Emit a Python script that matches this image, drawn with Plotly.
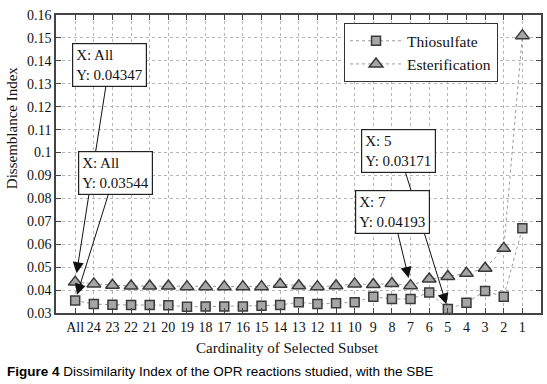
import plotly.graph_objects as go

categories = ["All", "24", "23", "22", "21", "20", "19", "18", "17", "16", "15", "14", "13",
              "12", "11", "10", "9", "8", "7", "6", "5", "4", "3", "2", "1"]
thiosulfate = [0.03544, 0.0339, 0.0336, 0.0335, 0.0335, 0.0334, 0.0327, 0.0328, 0.0328, 0.0328,
               0.0332, 0.0335, 0.0347, 0.0339, 0.0342, 0.0347, 0.0371, 0.0361, 0.0361, 0.0389,
               0.03171, 0.0345, 0.0396, 0.0371, 0.0670]
esterification = [0.04347, 0.0427, 0.0421, 0.0418, 0.0418, 0.0418, 0.0415, 0.0415, 0.0415, 0.0415,
                  0.0415, 0.0425, 0.0419, 0.0415, 0.0419, 0.0427, 0.0424, 0.0429, 0.04193, 0.0448,
                  0.0459, 0.0473, 0.0495, 0.0582, 0.1510]
y_ticks = [0.03, 0.04, 0.05, 0.06, 0.07, 0.08, 0.09, 0.1, 0.11, 0.12, 0.13, 0.14, 0.15, 0.16]
y_ticktext = ["0.03", "0.04", "0.05", "0.06", "0.07", "0.08", "0.09", "0.1", "0.11", "0.12",
              "0.13", "0.14", "0.15", "0.16"]

SERIF = "Liberation Serif"
fig = go.Figure()
fig.add_trace(go.Scatter(
    x=categories, y=thiosulfate, name="Thiosulfate", mode="lines+markers",
    line=dict(color="#9a9a9a", width=1, dash="dot"),
    marker=dict(symbol="square", size=9, color="#a6a6a6", line=dict(color="#3a3a3a", width=1.5)),
))
fig.add_trace(go.Scatter(
    x=categories, y=esterification, name="Esterification", mode="lines+markers",
    line=dict(color="#9a9a9a", width=1, dash="dot"),
    marker=dict(symbol="triangle-up", size=12, color="#a6a6a6", line=dict(color="#3a3a3a", width=1.5)),
))

L, R, T, B = 56, 4, 15, 71
W, H = 547, 384
pw, ph = W - L - R, H - T - B

def tip(i, values, text, ax, ay, standoff):
    fig.add_annotation(
        x=i, y=values[i], xref="x", yref="y", text=text, showarrow=True, ax=ax, ay=ay,
        arrowhead=2, arrowsize=2.2, arrowwidth=1, arrowcolor="#111", standoff=standoff,
        bgcolor="white", bordercolor="#222", borderwidth=1.2, borderpad=3, align="left",
        font=dict(family=SERIF, size=15, color="#111"),
    )

tip(categories.index("All"), esterification, "X: All<br>Y: 0.04347", 34, -217, 9)
tip(categories.index("All"), thiosulfate, "X: All<br>Y: 0.03544", 40, -128, 6)
tip(categories.index("5"), thiosulfate, "X: 5<br>Y: 0.03171", -49, -158, 5)
tip(categories.index("7"), esterification, "X: 7<br>Y: 0.04193", -18, -74, 8)

fig.add_annotation(text="Dissemblance Index", xref="paper", yref="paper",
                   x=(12 - L) / pw, y=(H - B - 128) / ph, textangle=-90, showarrow=False,
                   xanchor="center", yanchor="middle", font=dict(family=SERIF, size=15, color="#111"))
fig.add_annotation(text="Cardinality of Selected Subset", xref="paper", yref="paper",
                   x=(288 - L) / pw, y=(H - B - 348) / ph, showarrow=False,
                   xanchor="center", yanchor="middle", font=dict(family=SERIF, size=15, color="#111"))
fig.add_annotation(text="<b>Figure 4</b> Dissimilarity Index of the OPR reactions studied, with the SBE",
                   xref="paper", yref="paper", x=(5 - L) / pw, y=(H - B - 372) / ph, showarrow=False,
                   xanchor="left", yanchor="middle",
                   font=dict(family="Liberation Sans", size=13.5, color="#000"))

axis_common = dict(
    showline=True, linecolor="#444", linewidth=1.5, mirror="ticks",
    ticks="inside", ticklen=5, tickcolor="#444", tickwidth=1,
    showgrid=True, gridcolor="#b5b5b5", griddash="dot", gridwidth=1,
    zeroline=False, tickfont=dict(family=SERIF, size=14, color="#111"),
)
fig.update_xaxes(type="category", categoryorder="array", categoryarray=categories,
                 range=[-1.03, 25.0], **axis_common)
fig.update_yaxes(range=[0.03, 0.16], tickvals=y_ticks, ticktext=y_ticktext, **axis_common)

fig.update_layout(
    width=W, height=H, margin=dict(l=L, r=R, t=T, b=B),
    paper_bgcolor="white", plot_bgcolor="white",
    showlegend=True,
    legend=dict(x=(345 - L) / pw, y=(H - B - 23) / ph, xanchor="left", yanchor="top",
                bgcolor="white", bordercolor="#333", borderwidth=1.2,
                font=dict(family=SERIF, size=15.5, color="#111"), tracegroupgap=0,
                itemwidth=52),
)

fig.write_html("out.html", config={"displayModeBar": False},
               post_script="document.body.style.margin='0';document.body.style.overflow='hidden';")
